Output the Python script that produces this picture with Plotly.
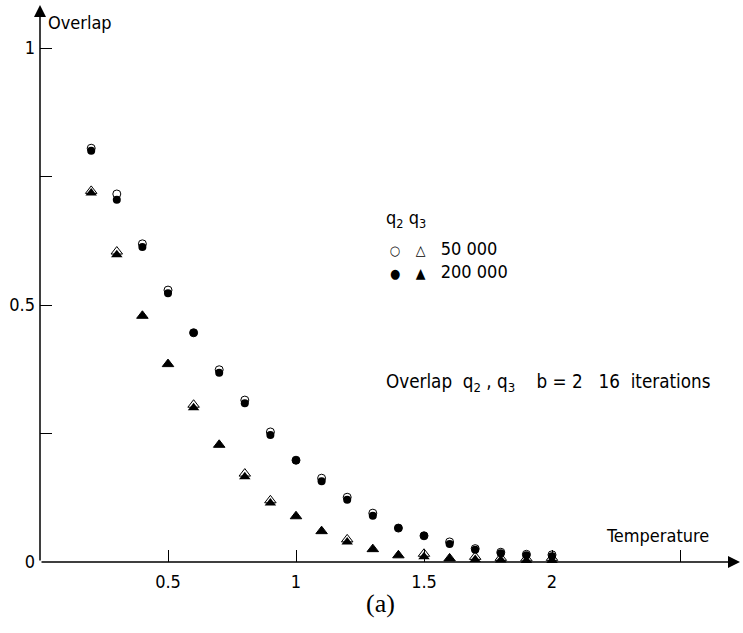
import plotly.graph_objects as go

temps = [0.2, 0.3, 0.4, 0.5, 0.6, 0.7, 0.8, 0.9, 1.0, 1.1, 1.2, 1.3, 1.4, 1.5, 1.6, 1.7, 1.8, 1.9, 2.0]

q2_200k = [0.800, 0.705, 0.613, 0.523, 0.446, 0.368, 0.309, 0.247, 0.198, 0.157, 0.121, 0.090, 0.066, 0.051, 0.035, 0.024, 0.017, 0.013, 0.011]
q2_50k  = [0.805, 0.716, 0.619, 0.529, 0.446, 0.374, 0.315, 0.253, 0.198, 0.163, 0.126, 0.095, 0.066, 0.051, 0.039, 0.026, 0.019, 0.015, 0.014]
q3_200k = [0.718, 0.598, 0.479, 0.385, 0.300, 0.228, 0.166, 0.115, 0.089, 0.060, 0.039, 0.025, 0.013, 0.010, 0.007, 0.005, 0.004, 0.003, 0.003]
q3_50k  = [0.722, 0.604, 0.479, 0.385, 0.306, 0.228, 0.172, 0.120, 0.089, 0.060, 0.044, 0.025, 0.013, 0.016, 0.007, 0.010, 0.008, 0.007, 0.008]

x_ticks = [0.5, 1, 1.5, 2, 2.5]
x_labels = ["0.5", "1", "1.5", "2", " "]
y_ticks = [0, 0.25, 0.5, 0.75, 1]
y_labels = ["0", " ", "0.5", " ", "1"]

FONT = "DejaVu Sans Condensed"
XMAX = 700 / 256
YMAX = 557 / 514

fig = go.Figure()
fig.add_trace(go.Scatter(x=temps, y=q3_200k, mode="markers", cliponaxis=False,
                         marker=dict(symbol="triangle-up", size=10, color="black")))
fig.add_trace(go.Scatter(x=temps, y=q3_50k, mode="markers", cliponaxis=False,
                         marker=dict(symbol="triangle-up-open", size=10, color="black", line=dict(width=1))))
fig.add_trace(go.Scatter(x=temps, y=q2_200k, mode="markers", cliponaxis=False,
                         marker=dict(symbol="circle", size=8, color="black")))
fig.add_trace(go.Scatter(x=temps, y=q2_50k, mode="markers", cliponaxis=False,
                         marker=dict(symbol="circle-open", size=8, color="black", line=dict(width=1))))

fig.update_layout(
    width=743, height=633,
    margin=dict(l=40, r=3, t=5, b=71),
    plot_bgcolor="white", paper_bgcolor="white",
    showlegend=False,
    font=dict(family=FONT, size=17, color="black"),
    xaxis=dict(range=[0, XMAX], showgrid=False, zeroline=False, showline=False,
               tickvals=x_ticks, ticktext=x_labels, ticks="inside", ticklen=12,
               tickcolor="black", tickwidth=1, ticklabelstandoff=7,
               tickfont=dict(family=FONT, size=18)),
    yaxis=dict(range=[0, YMAX], showgrid=False, zeroline=False, showline=False,
               tickvals=y_ticks, ticktext=y_labels, ticks="inside", ticklen=12,
               tickcolor="black", tickwidth=1, ticklabelstandoff=4,
               tickfont=dict(family=FONT, size=18)),
)

# axes with arrowheads
fig.add_annotation(x=XMAX, y=0, ax=0, ay=0, xref="x", yref="y", axref="x", ayref="y",
                   showarrow=True, arrowhead=2, arrowsize=1.6, arrowwidth=1.5, arrowcolor="black", text="")
fig.add_annotation(x=0, y=YMAX, ax=0, ay=0, xref="x", yref="y", axref="x", ayref="y",
                   showarrow=True, arrowhead=2, arrowsize=1.6, arrowwidth=1.5, arrowcolor="black", text="")

fig.add_annotation(x=0.025, y=1.05, xref="x", yref="y", text="Overlap", showarrow=False,
                   xanchor="left", yanchor="middle", font=dict(size=18))
fig.add_annotation(x=2.62, y=0.052, xref="x", yref="y", text="Temperature", showarrow=False,
                   xanchor="right", yanchor="middle", font=dict(size=18))

fig.add_annotation(x=1.345, y=0.668, xref="x", yref="y", text="q<sub>2</sub> q<sub>3</sub>",
                   showarrow=False, xanchor="left", yanchor="middle", font=dict(size=18))
fig.add_annotation(x=1.36, y=0.61, xref="x", yref="y",
                   text="<span style='font-size:13px'>○</span>   <span style='font-size:14px'>△</span>   50 000",
                   showarrow=False, xanchor="left", yanchor="middle", font=dict(size=18))
fig.add_annotation(x=1.36, y=0.566, xref="x", yref="y",
                   text="<span style='font-size:13px'>●</span>   <span style='font-size:14px'>▲</span>   200 000",
                   showarrow=False, xanchor="left", yanchor="middle", font=dict(size=18))

fig.add_annotation(x=1.345, y=0.348, xref="x", yref="y",
                   text="Overlap  q<sub>2</sub> , q<sub>3</sub>    b = 2   16  iterations",
                   showarrow=False, xanchor="left", yanchor="middle", font=dict(size=18.7))

fig.add_annotation(x=(380 - 40) / 700, y=(562 - 603) / 557, xref="paper", yref="paper",
                   xanchor="center", yanchor="middle",
                   text="(a)", showarrow=False, font=dict(family="Liberation Serif", size=26))

fig.write_html("out.html")
